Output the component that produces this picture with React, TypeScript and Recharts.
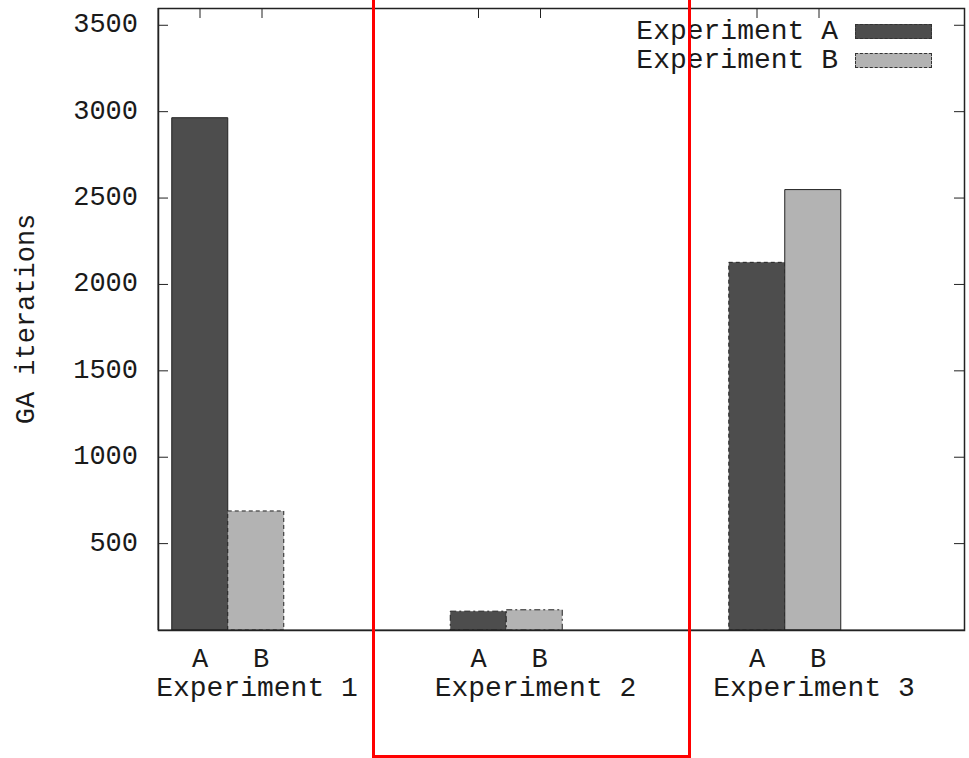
import { Bar, BarChart, Cell, Legend, XAxis, YAxis } from 'recharts';

const experiments = ['Experiment 1', 'Experiment 2', 'Experiment 3'];
const seriesA = [2965, 109, 2128];
const seriesB = [689, 117, 2549];
const yTicks = [500, 1000, 1500, 2000, 2500, 3000, 3500];
const subLabels = ['A', 'B'];

const data = experiments.map((name, i) => ({ name, pos: i, a: seriesA[i], b: seriesB[i] }));

const FONT = '"Liberation Mono", "DejaVu Sans Mono", monospace';
const FS = 27;
const FS_LABEL = 28;
const W = 969;
const H = 758;
const PLOT_LEFT = 158;
const PLOT_RIGHT = 964;
const PLOT_TOP = 8;
const PLOT_BOTTOM = 630;
const TICK = 10;
// group centres sit 278.5px apart, first one at x=228
const X_DOMAIN: [number, number] = [(PLOT_LEFT - 228) / 278.5, (PLOT_RIGHT - 228) / 278.5];
const Y_DOMAIN: [number, number] = [0, 3600];

const dashA = ['0', '6 3 2 3', '4 3'];
const dashB = ['4 3', '6 3 2 3', '0'];

// y ticks: gnuplot style, inward on both sides
function LeftTick({ y, payload }: any) {
  return (
    <g>
      <line x1={PLOT_LEFT} x2={PLOT_LEFT + TICK} y1={y} y2={y} stroke="#222" />
      <line x1={PLOT_RIGHT - TICK} x2={PLOT_RIGHT} y1={y} y2={y} stroke="#222" />
      <text x={PLOT_LEFT - 20} y={y} textAnchor="end" dominantBaseline="central" fontFamily={FONT} fontSize={FS} fill="#1a1a1a">
        {payload.value}
      </text>
    </g>
  );
}

// x labels below, mirror ticks on the top border
function BottomTick({ x, payload }: any) {
  return (
    <g>
      <g stroke="#222">
        <line x1={x - 28} x2={x - 28} y1={PLOT_TOP} y2={PLOT_TOP + TICK} />
        <line x1={x + 34} x2={x + 34} y1={PLOT_TOP} y2={PLOT_TOP + TICK} />
      </g>
      <g fontFamily={FONT} fill="#1a1a1a">
        <text x={x - 28} y={667} textAnchor="middle" fontSize={FS}>{subLabels[0]}</text>
        <text x={x + 33} y={667} textAnchor="middle" fontSize={FS}>{subLabels[1]}</text>
        <text x={x + 29} y={696} textAnchor="middle" fontSize={FS_LABEL}>{experiments[payload.value]}</text>
      </g>
    </g>
  );
}

function LegendBox() {
  const rows = [
    { label: 'Experiment A', fill: '#4d4d4d' },
    { label: 'Experiment B', fill: '#b3b3b3' },
  ];
  return (
    <div style={{ fontFamily: FONT, fontSize: FS_LABEL, color: '#1a1a1a' }}>
      {rows.map((r) => (
        <div key={r.label} style={{ display: 'flex', alignItems: 'center', justifyContent: 'flex-end', height: 29 }}>
          <span style={{ lineHeight: '29px' }}>{r.label}</span>
          <span
            style={{
              display: 'inline-block',
              width: 77,
              height: 15,
              marginLeft: 17,
              background: r.fill,
              border: '1px dashed #333',
              boxSizing: 'border-box',
            }}
          />
        </div>
      ))}
    </div>
  );
}

export default function App() {
  return (
    <div style={{ position: 'fixed', left: 0, top: 0, width: W, height: H, background: '#fff', overflow: 'hidden' }}>
      <style>{'html, body { margin: 0; overflow: hidden; }'}</style>
      <BarChart
        width={W}
        height={H}
        data={data}
        margin={{ top: PLOT_TOP, right: W - PLOT_RIGHT, bottom: 0, left: 0 }}
        barSize={56}
        barGap={0}
      >
        <XAxis
          xAxisId="bottom"
          type="number"
          dataKey="pos"
          domain={X_DOMAIN}
          ticks={[0, 1, 2]}
          allowDataOverflow
          height={H - PLOT_BOTTOM}
          axisLine={{ stroke: '#222' }}
          tickLine={false}
          tick={<BottomTick />}
          interval={0}
        />
        <YAxis
          yAxisId="left"
          width={PLOT_LEFT}
          domain={Y_DOMAIN}
          ticks={yTicks}
          allowDataOverflow
          axisLine={{ stroke: '#222' }}
          tickLine={false}
          tick={<LeftTick />}
          interval={0}
          label={{
            value: 'GA iterations',
            angle: -90,
            position: 'insideLeft',
            offset: 0,
            dx: 24,
            style: { fontFamily: FONT, fontSize: FS, fill: '#1a1a1a', textAnchor: 'middle' },
          }}
        />
        <Legend
          layout="horizontal"
          verticalAlign="middle"
          align="center"
          content={<LegendBox />}
          wrapperStyle={{ left: 560, top: 17, width: 372, height: 58 }}
        />
        <Bar xAxisId="bottom" yAxisId="left" dataKey="a" name="Experiment A" fill="#4d4d4d" stroke="#222" isAnimationActive={false}>
          {data.map((d, i) => (
            <Cell key={d.name} strokeDasharray={dashA[i]} />
          ))}
        </Bar>
        <Bar xAxisId="bottom" yAxisId="left" dataKey="b" name="Experiment B" fill="#b3b3b3" stroke="#222" isAnimationActive={false}>
          {data.map((d, i) => (
            <Cell key={d.name} strokeDasharray={dashB[i]} />
          ))}
        </Bar>
      </BarChart>
      {/* plot frame + red highlight box */}
      <svg width={W} height={H} style={{ position: 'absolute', left: 0, top: 0, pointerEvents: 'none' }}>
        <rect
          x={PLOT_LEFT + 0.5}
          y={PLOT_TOP + 0.5}
          width={PLOT_RIGHT - PLOT_LEFT}
          height={PLOT_BOTTOM - PLOT_TOP}
          fill="none"
          stroke="#222"
          strokeWidth={1.5}
        />
        <rect x={373.5} y={-10} width={316} height={H + 8.5} fill="none" stroke="#f00" strokeWidth={3} />
      </svg>
    </div>
  );
}
